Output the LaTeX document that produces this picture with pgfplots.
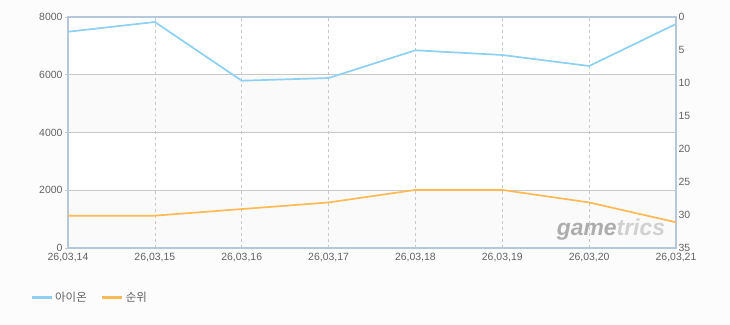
\documentclass[border=0pt]{standalone}
\usepackage{pgfplots}
\pgfplotsset{compat=1.18}
\usepackage{fontspec}
\setmainfont{Liberation Sans}
\newfontfamily\kr{Noto Sans CJK KR}
\definecolor{bgc}{HTML}{FCFCFC}
\definecolor{bandc}{HTML}{FAFAFA}
\definecolor{bluel}{HTML}{8DD0F2}
\definecolor{orangel}{HTML}{FFBA55}
\definecolor{framec}{HTML}{B5C7DA}
\definecolor{gridc}{HTML}{C8C8C8}
\definecolor{txt}{HTML}{626262}
\begin{document}
\begin{tikzpicture}
\fill[bgc] (0,0) rectangle (730bp,325bp);
\begin{axis}[
  at={(68bp,77bp)}, anchor=south west,
  width=608bp, height=231bp, scale only axis,
  xmin=0, xmax=7, ymin=0, ymax=8000,
  xtick={0,...,7},
  xticklabels={{26,03,14},{26,03,15},{26,03,16},{26,03,17},{26,03,18},{26,03,19},{26,03,20},{26,03,21}},
  ytick={0,2000,4000,6000,8000},
  axis background/.style={fill=white, path picture={
    \fill[bandc] (path picture bounding box.south west) rectangle ([yshift=57.75bp]path picture bounding box.south east);
    \fill[bandc] ([yshift=115.5bp]path picture bounding box.south west) rectangle ([yshift=173.25bp]path picture bounding box.south east);
  }},
  axis line style={framec, line width=1.6bp},
  xmajorgrids, ymajorgrids,
  x grid style={gridc, dashed, line width=0.6bp},
  y grid style={gridc, line width=0.8bp},
  xtick pos=bottom, ytick pos=left,
  xtick style={draw=none},
  ytick style={gridc, line width=0.8bp},
  tick align=outside, major tick length=3bp,
  tick label style={font=\fontsize{10.5}{12}\selectfont, text=txt},
  xticklabel style={yshift=1bp},
  yticklabel style={xshift=1bp},
  /pgf/number format/assume math mode=true,
  /pgf/number format/set thousands separator={},
]
\addplot[bluel, line width=1.7bp] coordinates {
 (0,7490) (1,7827) (2,5794) (3,5887) (4,6847) (5,6684) (6,6303) (7,7758)};
\end{axis}
\begin{axis}[
  at={(68bp,77bp)}, anchor=south west,
  width=608bp, height=231bp, scale only axis,
  xmin=0, xmax=7, ymin=0, ymax=35, y dir=reverse,
  hide x axis,
  axis y line*=right,
  axis line style={framec, line width=1.6bp},
  ytick={0,5,10,15,20,25,30,35},
  ytick style={draw=none},
  yticklabel style={font=\fontsize{10.5}{12}\selectfont, text=txt, anchor=west, xshift=-1bp},
  /pgf/number format/assume math mode=true,
  legend style={at={(-0.0625,-0.216)}, anchor=west, draw=none, fill=none,
    font=\kr\fontsize{11.5}{13}\selectfont, text=txt, inner sep=0pt,
    /tikz/every even column/.append style={column sep=12bp}},
  legend columns=2,
  legend cell align=left,
  legend image code/.code={\draw[#1, line width=3bp] (0bp,0bp) -- (20bp,0bp);},
]
\addlegendimage{bluel, line width=1.7bp}
\addlegendentry{아이온}
\addplot[orangel, line width=1.7bp] coordinates {
 (0,30.1) (1,30.1) (2,29.1) (3,28.1) (4,26.2) (5,26.2) (6,28.1) (7,31.1)};
\addlegendentry{순위}
\node[anchor=base, inner sep=0pt, font=\fontsize{23}{25}\selectfont\bfseries\itshape]
  at (rel axis cs:0.893,0.056) {\textcolor{black!32}{game}\textcolor{black!18}{trics}};
\end{axis}
\end{tikzpicture}
\end{document}
